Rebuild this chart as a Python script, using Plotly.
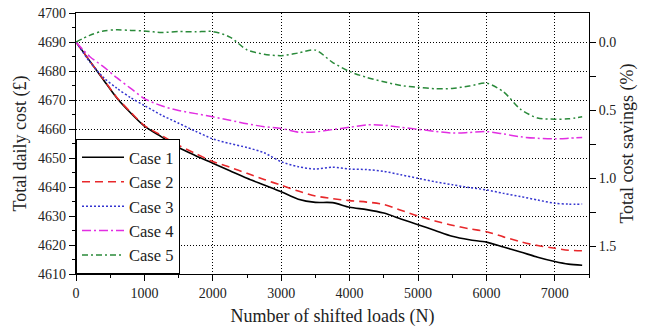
import plotly.graph_objects as go

n_loads = [0, 200, 400, 600, 800, 1000, 1250, 1500, 1750, 2000, 2250, 2500, 2750, 3000,
           3250, 3500, 3750, 4000, 4250, 4500, 4750, 5000, 5250, 5500, 5750, 6000,
           6250, 6500, 6750, 7000, 7200, 7400]

case1 = [4690, 4683.5, 4677, 4670.6, 4665.5, 4661, 4657.3, 4653.6, 4650.8, 4648.2, 4645.6,
         4643, 4640.7, 4638.4, 4635.8, 4634.7, 4634.6, 4633, 4632.2, 4631, 4629, 4627,
         4625, 4623, 4621.8, 4621, 4619.3, 4617.6, 4615.8, 4614.3, 4613.4, 4613]
case2 = [4690, 4683.5, 4677.2, 4670.8, 4665.8, 4661.2, 4657.8, 4654.4, 4651.5, 4648.8, 4646.8,
         4644.7, 4642.6, 4640.6, 4638.6, 4636.9, 4636, 4635.3, 4634.8, 4634, 4632, 4630,
         4628.3, 4626.8, 4625.6, 4624.6, 4622.8, 4621.1, 4619.8, 4618.9, 4618.2, 4618]
case3 = [4690, 4683.2, 4677.8, 4674, 4670.8, 4668.1, 4664.8, 4662, 4659.2, 4656.6, 4655,
         4653.6, 4651.8, 4648.7, 4647, 4646.2, 4646.8, 4646.2, 4646, 4645.4, 4644.2, 4643,
         4641.8, 4640.8, 4639.8, 4639, 4637.8, 4636.7, 4635.5, 4634.4, 4634.1, 4634.1]
case4 = [4690, 4685, 4681.5, 4677.6, 4674, 4670.5, 4668, 4666.4, 4665.3, 4664.2, 4663,
         4661.8, 4660.8, 4660.2, 4658.9, 4659, 4659.8, 4660.6, 4661.4, 4661.3, 4660.6, 4659.9,
         4659.2, 4658.6, 4658.8, 4659.1, 4658.3, 4657.3, 4656.8, 4656.6, 4656.8, 4657.1]
case5 = [4690, 4692.3, 4693.8, 4694.2, 4694, 4693.8, 4693.3, 4693.6, 4693.5, 4693.6, 4691.7,
         4687.3, 4685.8, 4685.3, 4686.2, 4687.2, 4683, 4679.8, 4677.8, 4676.3, 4675, 4674.4,
         4673.9, 4674, 4674.8, 4675.8, 4672.8, 4666.8, 4663.8, 4663.4, 4663.5, 4664.2]

case_names = ["Case 1", "Case 2", "Case 3", "Case 4", "Case 5"]
base_cost = 4690
y_ticks = [4610, 4620, 4630, 4640, 4650, 4660, 4670, 4680, 4690, 4700]
x_ticks = [0, 1000, 2000, 3000, 4000, 5000, 6000, 7000]
saving_ticks = [0.0, 0.5, 1.0, 1.5]

styles = [
    dict(color="black", dash="solid", width=1.6),
    dict(color="#e8282b", dash="8px,5px", width=1.6),
    dict(color="#3535d0", dash="2px,2px", width=1.5),
    dict(color="#e22ee2", dash="9px,3px,2px,3px", width=1.5),
    dict(color="#2a8a3a", dash="6px,3px,2px,3px", width=1.5),
]

FONT = "'Liberation Serif', 'Times New Roman', Times, serif"
TXT = "#222"
fig = go.Figure()
for name, vals, st in zip(case_names, [case1, case2, case3, case4, case5], styles):
    fig.add_trace(go.Scatter(x=n_loads, y=vals, mode="lines", name=name,
                             line=dict(shape="spline", smoothing=0.8, **st)))

# savings axis helper trace (invisible)
savings = [(base_cost - v) / base_cost * 100 for v in case1]
fig.add_trace(go.Scatter(x=n_loads, y=savings, yaxis="y2", mode="lines",
                         line=dict(color="rgba(0,0,0,0)"), showlegend=False, hoverinfo="skip"))

y_lo, y_hi = 4610, 4700
axis_common = dict(showline=True, linecolor="black", linewidth=1.3, ticks="outside",
                   tickcolor="black", tickwidth=1.2, ticklen=6, zeroline=False, automargin=False,
                   tickfont=dict(family=FONT, size=14, color=TXT))
grid = dict(showgrid=True, gridcolor="black", griddash="1px,2px", gridwidth=1)
fig.update_layout(
    width=649, height=333,
    margin=dict(l=76, r=60, t=13, b=59),
    paper_bgcolor="white", plot_bgcolor="white",
    font=dict(family=FONT, color=TXT),
    showlegend=True,
    legend=dict(x=0, y=0, xanchor="left", yanchor="bottom", bgcolor="white",
                bordercolor="black", borderwidth=1, font=dict(family=FONT, size=16.5, color=TXT),
                tracegroupgap=0, itemwidth=42),
    xaxis=dict(range=[0, 7500], tickvals=x_ticks, mirror=True,
               minor=dict(dtick=500, tick0=0, ticks="outside", ticklen=3, tickcolor="black", showgrid=False),
               title=dict(text="Number of shifted loads (N)", font=dict(family=FONT, size=18, color=TXT),
                          standoff=9),
               **grid, **axis_common),
    yaxis=dict(range=[y_lo, y_hi], tickvals=y_ticks, mirror=True,
               minor=dict(dtick=5, tick0=4610, ticks="outside", ticklen=3, tickcolor="black", showgrid=False),
               title=dict(text="Total daily cost (£)", font=dict(family=FONT, size=18, color=TXT),
                          standoff=6),
               **grid, **axis_common),
    yaxis2=dict(overlaying="y", side="right", automargin=False,
                range=[(base_cost - y_lo) / base_cost * 100, (base_cost - y_hi) / base_cost * 100],
                tickvals=saving_ticks, tickformat=".1f", showgrid=False, showline=False,
                ticks="outside", tickcolor="black", tickwidth=1.2, ticklen=6, zeroline=False,
                tickfont=dict(family=FONT, size=14, color=TXT),
                minor=dict(tickvals=[-0.25, 0.25, 0.75, 1.25], ticks="outside", ticklen=6, tickcolor="black"),
                title=dict(text="Total cost savings (%)", font=dict(family=FONT, size=18, color=TXT),
                           standoff=5)),
)
fig.write_html("out.html")
